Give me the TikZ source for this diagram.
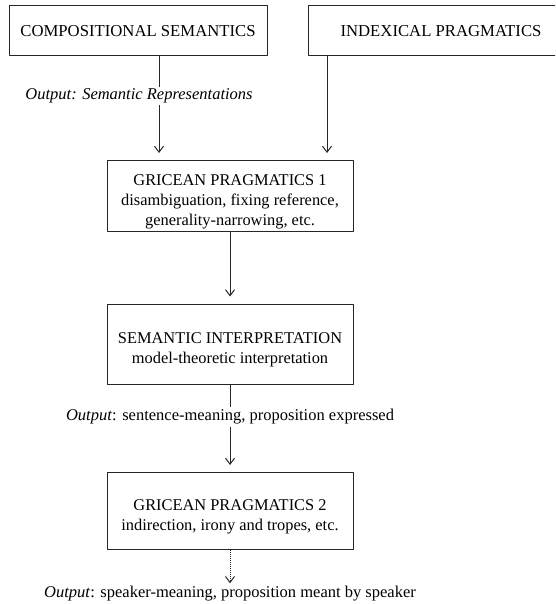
\documentclass[tikz,border=0pt]{standalone}
\usepackage{fontspec}
\setmainfont{Liberation Serif}
\usetikzlibrary{arrows.meta}
\newcommand\boxstrut{\rule{0pt}{22pt}}
\begin{document}
\begin{tikzpicture}[x=1pt,y=-1pt,>={Straight Barb[length=6pt,width=9pt]},line join=round,
	box/.style={draw=black!85,line width=1pt,minimum width=246pt,inner ysep=1pt,align=center,font=\fontsize{16.4}{20}\selectfont},
	topbox/.style={draw=black!85,line width=1pt,minimum height=50pt,font=\fontsize{16.7}{20}\selectfont},
	outtext/.style={font=\fontsize{16.5}{20}\selectfont,inner sep=2pt},
	link/.style={draw=black!85,line width=1pt}]
	\useasboundingbox (0,0) rectangle (555,604);
	\clip (0,0) rectangle (555,604);
	% top row
	\node[topbox,minimum width=258pt] (comp) at (138,31) {COMPOSITIONAL SEMANTICS};
	\node[topbox,minimum width=266pt] (index) at (441,31) {INDEXICAL PRAGMATICS};
	\node[outtext] (out1) at (139,96) {\itshape Output: Semantic Representations};
	% middle column
	\node[box,minimum height=71pt] (gp1) at (230,196) {\boxstrut GRICEAN PRAGMATICS 1\\disambiguation, fixing reference,\\generality-narrowing, etc.};
	\node[box,minimum height=80pt] (sem) at (230,344) {\boxstrut SEMANTIC INTERPRETATION\\model-theoretic interpretation};
	\node[outtext] (out2) at (230,417) {\textit{Output}: sentence-meaning, proposition expressed};
	\node[box,minimum height=77pt] (gp2) at (230,511) {\boxstrut GRICEAN PRAGMATICS 2\\indirection, irony and tropes, etc.};
	\node[outtext] (out3) at (230,594) {\textit{Output}: speaker-meaning, proposition meant by speaker};
	% connectors
	\coordinate (k1) at (159,0);
	\coordinate (k2) at (327,0);
	\draw[link] (comp.south -| k1)--(out1.north -| k1);
	\draw[link,->,shorten >=7pt] (out1.south -| k1)--(gp1.north -| k1);
	\draw[link,->,shorten >=7pt] (index.south -| k2)--(gp1.north -| k2);
	\draw[link,->,shorten >=7pt] (gp1)--(sem);
	\draw[link] (sem)--(out2);
	\draw[link,->,shorten >=7pt] (out2)--(gp2);
	\draw[link,densely dotted,->,shorten >=1pt] (gp2)--(out3);
\end{tikzpicture}
\end{document}
